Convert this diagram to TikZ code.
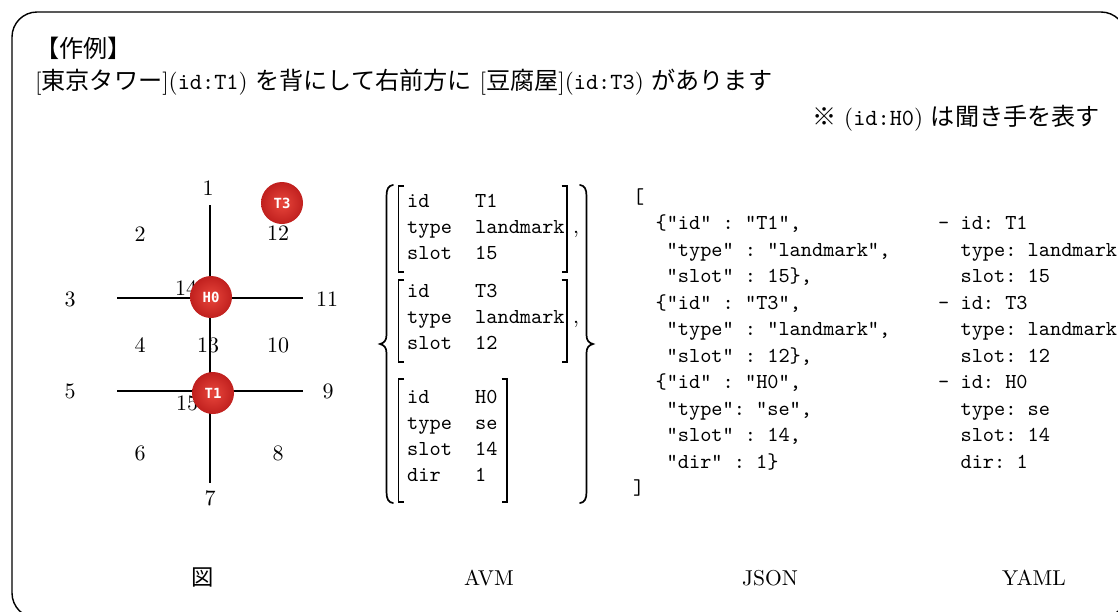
\documentclass[tikz,border=0pt]{standalone}
\usepackage{fontspec}
\setmainfont{lmroman10-regular.otf}
\setmonofont{lmmono10-regular.otf}
\newfontfamily\cjk{Noto Sans CJK JP}[Scale=1.04]
\newfontfamily\ballfont{DejaVu Sans Mono}
\definecolor{ballin}{RGB}{232,70,60}
\definecolor{ballout}{RGB}{192,32,30}
\begin{document}
\begin{tikzpicture}[x=1pt,y=-1pt,
  txt/.style={inner sep=0pt, font=\fontsize{21.5}{26}\selectfont},
  head/.style={inner sep=0pt, font=\fontsize{23.2}{27}\selectfont},
  mono/.style={inner sep=0pt, anchor=base west, font=\fontsize{21.3}{26}\selectfont\ttfamily},
  num/.style={inner sep=0pt, font=\fontsize{22}{26}\selectfont},
  ball/.style={circle, minimum size=42pt, inner sep=0pt, shading=radial,
    inner color=ballin, outer color=ballout, text=white,
    font=\fontsize{14}{14}\selectfont\ballfont\bfseries},
  axisline/.style={line width=1.6pt},
  brk/.style={line width=1.1pt},
  bracepath/.style={line width=1.7pt, line cap=round},
  frame/.style={line width=1.4pt, rounded corners=25pt}
]
\useasboundingbox (0,0) rectangle (1118,611);
\clip (0,0) rectangle (1118,611);
\draw[frame] (12,12) rectangle (1126,618);

% header text
\node[head, anchor=base west] (title) at (35,57) {\cjk 【作例】};
\node[head, anchor=base west] (sent) at (35,89) {[{\cjk 東京タワー}](\texttt{id:T1}) {\cjk を背にして右前方に} [{\cjk 豆腐屋}](\texttt{id:T3}) {\cjk があります}};
\node[head, anchor=base east] (note) at (1100,125) {{\cjk ※} (\texttt{id:H0}) {\cjk は聞き手を表す}};

% grid lines
\coordinate (vtop) at (210,205);
\coordinate (vbot) at (210,483);
\coordinate (h1l) at (117,298);
\coordinate (h1r) at (303,298);
\coordinate (h2l) at (117,391);
\coordinate (h2r) at (303,391);
\draw[axisline] (vtop) -- (vbot);
\draw[axisline] (h1l) -- (h1r);
\draw[axisline] (h2l) -- (h2r);

% slot numbers
\node[num] (n1) at (208,188) {1};
\node[num] (n2) at (140,234) {2};
\node[num] (n12) at (278,233) {12};
\node[num] (n3) at (70,299) {3};
\node[num] (n14) at (186,288) {14};
\node[num] (n11) at (327,299) {11};
\node[num] (n4) at (140,345) {4};
\node[num] (n13) at (208,345) {13};
\node[num] (n10) at (278,345) {10};
\node[num] (n5) at (70,391) {5};
\node[num] (n9) at (328,391) {9};
\node[num] (n15) at (187,403) {15};
\node[num] (n6) at (140,453) {6};
\node[num] (n8) at (278,453) {8};
\node[num] (n7) at (210,498) {7};

% balls
\node[ball] (T3) at (282,203) {T3};
\node[ball] (H0) at (211,297) {H0};
\node[ball] (T1) at (213,393) {T1};

% AVM braces
\draw[bracepath] (393,185) .. controls (388.5,185.5) and (386.5,189) .. (386.5,196)
  -- (386.5,335) .. controls (386.5,340.5) and (384,343) .. (380,344)
  .. controls (384,345) and (386.5,347.5) .. (386.5,353)
  -- (386.5,492) .. controls (386.5,499) and (388.5,502.5) .. (393,503);
\draw[bracepath] (580,185) .. controls (584.5,185.5) and (586.5,189) .. (586.5,196)
  -- (586.5,335) .. controls (586.5,340.5) and (589,343) .. (593,344)
  .. controls (589,345) and (586.5,347.5) .. (586.5,353)
  -- (586.5,492) .. controls (586.5,499) and (584.5,502.5) .. (580,503);

% AVM brackets
\draw[brk] (404,186) -- (398.5,186) -- (398.5,272) -- (404,272);
\draw[brk] (561.5,186) -- (567,186) -- (567,272) -- (561.5,272);
\draw[brk] (404,280) -- (398.5,280) -- (398.5,362) -- (404,362);
\draw[brk] (561.5,280) -- (567,280) -- (567,362) -- (561.5,362);
\draw[brk] (404,379) -- (398.5,379) -- (398.5,502) -- (404,502);
\draw[brk] (501.5,379) -- (507,379) -- (507,502) -- (501.5,502);
\node[txt, anchor=base west] (c1) at (573,233) {,};
\node[txt, anchor=base west] (c2) at (573,323) {,};

% AVM content
\node[mono] (k11) at (407,207) {id};   \node[mono] (v11) at (475,207) {T1};
\node[mono] (k12) at (407,233) {type}; \node[mono] (v12) at (475,233) {landmark};
\node[mono] (k13) at (407,259) {slot}; \node[mono] (v13) at (475,259) {15};
\node[mono] (k21) at (407,297) {id};   \node[mono] (v21) at (475,297) {T3};
\node[mono] (k22) at (407,323) {type}; \node[mono] (v22) at (475,323) {landmark};
\node[mono] (k23) at (407,349) {slot}; \node[mono] (v23) at (475,349) {12};
\node[mono] (k31) at (407,403) {id};   \node[mono] (v31) at (475,403) {H0};
\node[mono] (k32) at (407,429) {type}; \node[mono] (v32) at (475,429) {se};
\node[mono] (k33) at (407,455) {slot}; \node[mono] (v33) at (475,455) {14};
\node[mono] (k34) at (407,481) {dir};  \node[mono] (v34) at (475,481) {1};

% JSON
\node[mono] (j0) at (633,203) {[};
\node[mono] (j1) at (655.4,229.5) {\{"id" : "T1",};
\node[mono] (j2) at (666.5,256) {"type" : "landmark",};
\node[mono] (j3) at (666.5,282.5) {"slot" : 15\},};
\node[mono] (j4) at (655.4,309) {\{"id" : "T3",};
\node[mono] (j5) at (666.5,335.5) {"type" : "landmark",};
\node[mono] (j6) at (666.5,362) {"slot" : 12\},};
\node[mono] (j7) at (655.4,388.5) {\{"id" : "H0",};
\node[mono] (j8) at (666.5,415) {"type": "se",};
\node[mono] (j9) at (666.5,441.5) {"slot" : 14,};
\node[mono] (j10) at (666.5,468) {"dir" : 1\}};
\node[mono] (j11) at (633,494.5) {]};

% YAML
\node[mono] (y1) at (938,229.5) {- id: T1};
\node[mono] (y2) at (960.4,256) {type: landmark};
\node[mono] (y3) at (960.4,282.5) {slot: 15};
\node[mono] (y4) at (938,309) {- id: T3};
\node[mono] (y5) at (960.4,335.5) {type: landmark};
\node[mono] (y6) at (960.4,362) {slot: 12};
\node[mono] (y7) at (938,388.5) {- id: H0};
\node[mono] (y8) at (960.4,415) {type: se};
\node[mono] (y9) at (960.4,441.5) {slot: 14};
\node[mono] (y10) at (960.4,468) {dir: 1};

% captions
\node[txt, anchor=base] (capfig) at (203,585) {\cjk 図};
\node[txt, anchor=base] (capavm) at (489,585) {AVM};
\node[txt, anchor=base] (capjson) at (770,585) {JSON};
\node[txt, anchor=base] (capyaml) at (1034,585) {YAML};
\end{tikzpicture}
\end{document}
